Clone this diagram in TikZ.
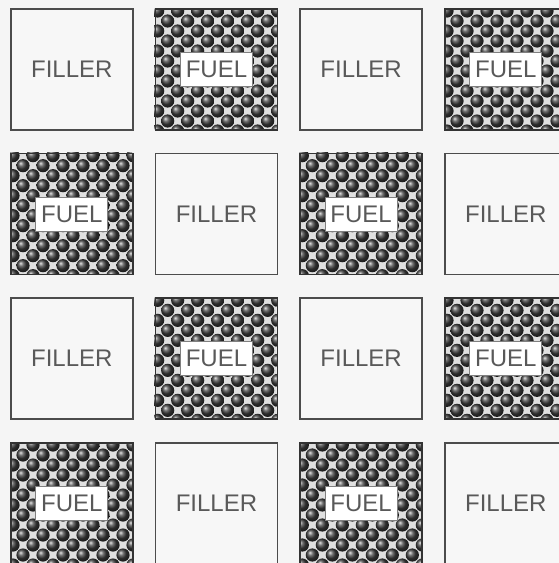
\documentclass[tikz,border=0pt]{standalone}
\usepackage{fontspec}
\setmainfont{Liberation Sans}
\begin{document}
\begin{tikzpicture}[x=1pt, y=-1pt,
  cell/.style={draw=black!70, line width=1.6pt, minimum width=122pt,
               minimum height=121pt, inner sep=0pt, anchor=north west},
  filler/.style={cell, fill=black!3, text=black!65,
                 font=\fontsize{24}{24}\selectfont},
  fuel/.style={cell, draw=black!80},
  fuellabel/.style={draw=black!50, line width=0.8pt, fill=white,
                    minimum width=72pt, minimum height=34pt, inner sep=0pt,
                    text=black!65, font=\fontsize{24}{24}\selectfont},
  pebble/.style={shading=ball, ball color=black!75}
]
\useasboundingbox (0,0) rectangle (559,563);
\fill[black!4] (0,0) rectangle (559,563);
\clip (0,0) rectangle (559,563);
% checkerboard of filler and fuel cells
\foreach \r in {0,...,3} {
  \foreach \c in {0,...,3} {
    \pgfmathsetmacro{\px}{10+144.67*\c}
    \pgfmathsetmacro{\py}{8+144.67*\r}
    \pgfmathtruncatemacro{\odd}{mod(\r+\c,2)}
    \ifnum\odd=0
      \node[filler] (cell-\r-\c) at (\px,\py) {FILLER};
    \else
      \begin{scope}
        \clip (\px,\py) rectangle (\px+122,\py+121);
        \fill[black!12] (\px,\py) rectangle (\px+122,\py+121);
        \foreach \i in {0,...,12} {
          \foreach \j in {0,...,12} {
            \pgfmathtruncatemacro{\even}{mod(\i+\j,2)}
            \ifnum\even=0
              \shade[pebble] (\px+3+10*\i, \py+3+10*\j) circle (6.6pt);
            \fi
          }
        }
      \end{scope}
      \node[fuel] (cell-\r-\c) at (\px,\py) {};
      \node[fuellabel] (label-\r-\c) at (cell-\r-\c.center) {FUEL};
    \fi
  }
}
\end{tikzpicture}
\end{document}
